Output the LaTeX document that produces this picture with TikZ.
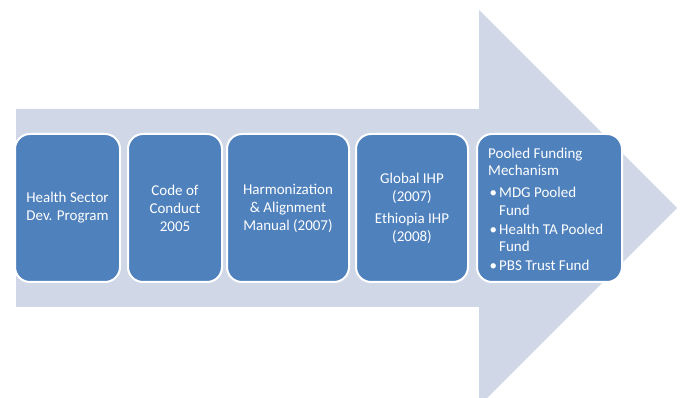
\documentclass[tikz,border=0pt]{standalone}
\usepackage{fontspec}
\setmainfont{Carlito}
\definecolor{arrowfill}{HTML}{D0D8E8}
\definecolor{boxfill}{HTML}{4F81BD}
\begin{document}
\begin{tikzpicture}[x=1pt,y=-1pt,
  stagebox/.style={draw=white,line width=2pt,fill=boxfill,rounded corners=15pt},
  stagetext/.style={text=white,align=center,inner sep=0pt,font=\fontsize{15}{18}\selectfont}]
\useasboundingbox (0,0) rectangle (681,398);
\fill[white] (0,0) rectangle (681,398);
\begin{scope}
\clip (0,0) rectangle (681,398);
\fill[arrowfill] (16,109) -- (479,109) -- (479,10) -- (677,208) -- (479,406) -- (479,307) -- (16,307) -- cycle;
\end{scope}
\path[stagebox] (15,134) rectangle (120,282) coordinate (b1se);
\path[stagebox] (128,134) rectangle (222,282);
\path[stagebox] (227,134) rectangle (349,282);
\path[stagebox] (356,134) rectangle (468,282);
\path[stagebox] (477,134) rectangle (622,282);
\node[stagetext] (t1) at (67.5,208) {Health Sector\\Dev. Program};
\node[stagetext] (t2) at (175,208) {Code of\\Conduct\\2005};
\node[stagetext] (t3) at (288,208) {Harmonization\\\&\ Alignment\\Manual (2007)};
\node[stagetext] (t4) at (412,208) {Global IHP\\(2007)\\[4pt]Ethiopia IHP\\(2008)};
\node[stagetext,align=left,anchor=north west,font=\fontsize{15}{17.5}\selectfont] (t5) at (488,147.5)
  {Pooled Funding\\Mechanism\\[4.5pt]
   \makebox[11pt][l]{\hspace{1.5pt}•}MDG Pooled\\\hspace*{11pt}Fund\\[1.5pt]
   \makebox[11pt][l]{\hspace{1.5pt}•}Health TA Pooled\\\hspace*{11pt}Fund\\[1.5pt]
   \makebox[11pt][l]{\hspace{1.5pt}•}PBS Trust Fund};
\end{tikzpicture}
\end{document}
